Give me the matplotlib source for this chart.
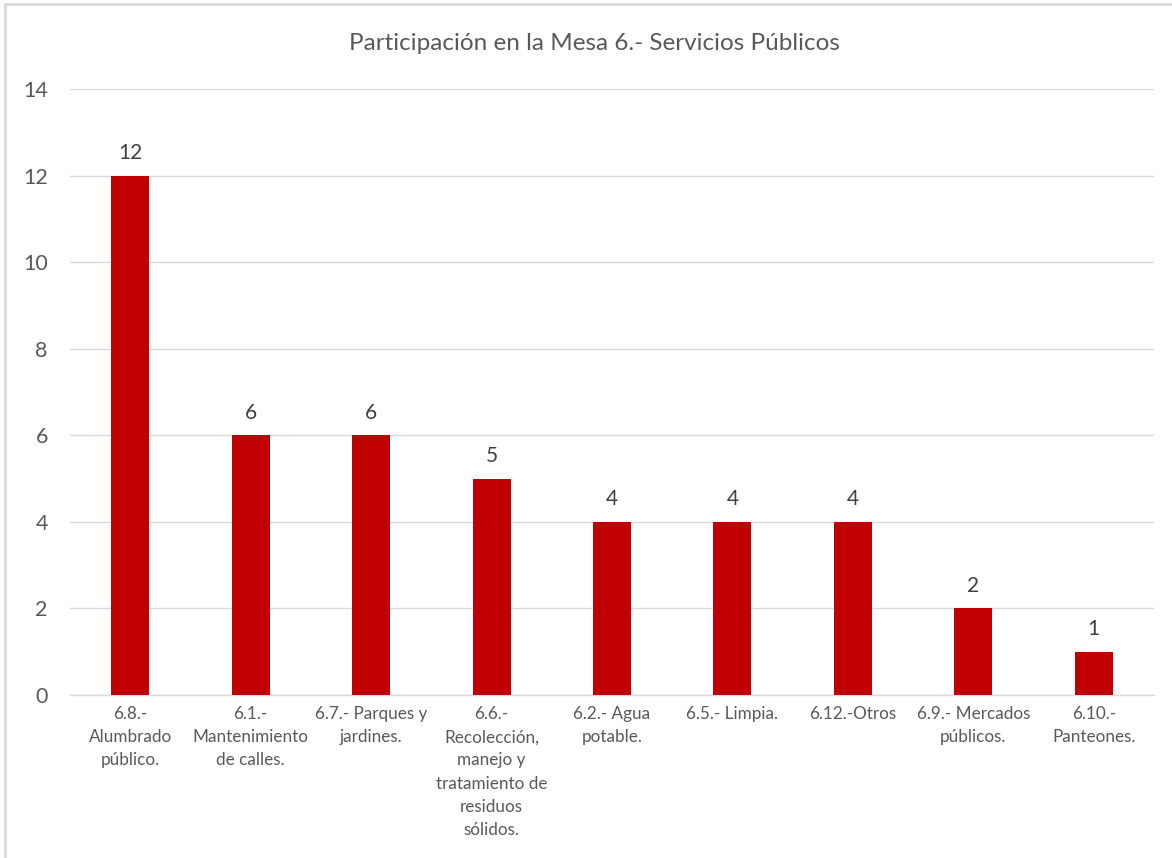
import numpy as np
import matplotlib.pyplot as plt
from matplotlib.lines import Line2D

plt.rcParams['font.family'] = ['Lato', 'DejaVu Sans']

titulo = "Participación en la Mesa 6.- Servicios Públicos"
categorias = [
    "6.8.-\nAlumbrado\npúblico.",
    "6.1.-\nMantenimiento\nde calles.",
    "6.7.- Parques y\njardines.",
    "6.6.-\nRecolección,\nmanejo y\ntratamiento de\nresiduos\nsólidos.",
    "6.2.- Agua\npotable.",
    "6.5.- Limpia.",
    "6.12.-Otros",
    "6.9.- Mercados\npúblicos.",
    "6.10.-\nPanteones.",
]
valores = [12, 6, 6, 5, 4, 4, 4, 2, 1]
yticks = [0, 2, 4, 6, 8, 10, 12, 14]

gris = "#595959"
rojo = "#C00000"

fig = plt.figure(figsize=(11.72, 8.58), dpi=100)
ax = fig.add_axes([70/1172, 1 - 695/858, 1084/1172, 606/858])

x = np.arange(len(categorias))
barras = ax.bar(x, valores, width=0.315, color=rojo, zorder=3)

for xi, v in zip(x, valores):
    ax.annotate(str(v), (xi, v), xytext=(0, 9), textcoords="offset points",
                ha="center", va="bottom", fontsize=15, color="#404040")

ax.set_xlim(-0.5, len(categorias) - 0.5)
ax.set_ylim(0, 14)
ax.set_yticks(yticks)
ax.set_yticklabels([str(t) for t in yticks], fontsize=15.5, color=gris)
ax.set_xticks(x)
ax.set_xticklabels(categorias, fontsize=12.3, color=gris, linespacing=1.55, va="top")
ax.tick_params(axis="both", length=0)
ax.tick_params(axis="y", pad=16)
ax.tick_params(axis="x", pad=8)

ax.grid(axis="y", color="#D9D9D9", linewidth=1, zorder=0)
for s in ["top", "right", "left"]:
    ax.spines[s].set_visible(False)
ax.spines["bottom"].set_color("#D9D9D9")
ax.spines["bottom"].set_linewidth(1)

fig.text(0.5 * (347 + 842) / 1172, 1 - 43/858, titulo, ha="center", va="center",
         fontsize=17.5, color=gris)

# marco del gráfico
fig.add_artist(Line2D([5/1172, 5/1172], [0, 1 - 4/858], color="#D9D9D9", linewidth=2))
fig.add_artist(Line2D([5/1172, 1], [1 - 4/858, 1 - 4/858], color="#D9D9D9", linewidth=2))

fig.savefig("out.png", dpi=100, facecolor="white")
